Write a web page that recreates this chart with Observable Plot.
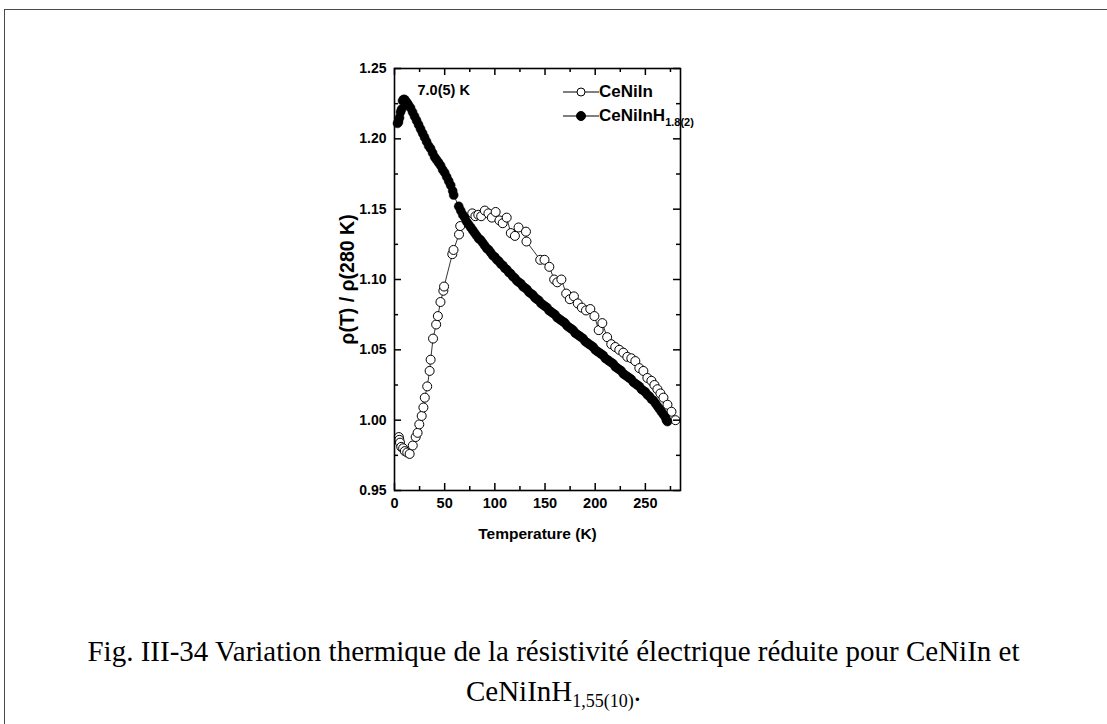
<!DOCTYPE html>
<html><head><meta charset="utf-8">
<script src="https://cdn.jsdelivr.net/npm/d3@7"></script>
<script src="https://cdn.jsdelivr.net/npm/@observablehq/plot@0.6"></script>
<style>
html,body{margin:0;padding:0;background:#fff;}
#page{position:relative;width:1107px;height:724px;overflow:hidden;background:#fff;}
#border{position:absolute;left:4px;top:9px;width:1200px;height:800px;border-top:1.5px solid #4a4a4a;border-left:1.5px solid #4a4a4a;}
#chart{position:absolute;left:0;top:0;}
#legend{position:absolute;left:563px;top:80px;font:bold 17px Arial,"Liberation Sans",sans-serif;color:#000;}
.row{display:flex;align-items:center;height:24px;}
.row svg{display:block;}
.row sub{font-size:11px;vertical-align:-5px;line-height:0;}
#caption{position:absolute;left:0;width:1107px;top:631px;text-align:center;font:29px "Liberation Serif","Times New Roman",serif;line-height:40px;color:#000;}
#caption sub{font-size:18px;vertical-align:-6px;line-height:0;}
</style></head>
<body>
<div id="page">
  <div id="border"></div>
  <div id="chart"></div>
  <div id="legend"></div>
  <div id="caption"></div>
</div>
<script>
// ---- data ----
const seriesNames = ["CeNiIn", "CeNiInH"];
const seriesSubs = ["", "1.8(2)"];

const ceniinT = [4.3,4.8,5.5,6.7,8.6,10.3,12.7,15.1,18.2,21.1,23.0,24.7,27.1,28.8,30.2,32.6,35.0,36.0,38.4,41.5,43.2,45.8,48.7,49.4,57.6,58.8,64.3,65.5,77.5,80.6,83.5,86.4,90.0,93.6,97.0,100.8,104.6,107.8,111.8,115.9,120.0,123.6,131.0,131.5,145.2,149.5,154.3,159.1,162.2,166.3,171.1,174.7,178.8,182.6,186.7,190.8,195.1,199.2,203.5,207.1,211.9,216,220,224,228,232,236,240,244,248,252,256,259,262,265,268,272,276,280];
const ceniinRho = [0.988,0.986,0.984,0.981,0.980,0.978,0.977,0.976,0.982,0.988,0.991,0.997,1.003,1.009,1.016,1.024,1.035,1.043,1.058,1.068,1.074,1.084,1.092,1.095,1.118,1.121,1.132,1.138,1.147,1.145,1.146,1.145,1.149,1.147,1.144,1.148,1.142,1.140,1.144,1.133,1.131,1.137,1.134,1.127,1.114,1.114,1.109,1.100,1.098,1.100,1.090,1.086,1.088,1.083,1.080,1.078,1.079,1.074,1.064,1.069,1.059,1.054,1.052,1.050,1.048,1.045,1.044,1.042,1.037,1.035,1.030,1.028,1.025,1.022,1.019,1.016,1.011,1.006,1.000];

const hydT = [3,4,5,6,7,8,9,10,11,12,13,14,16,18,20,22,24,26,28,30,32,34,36,38,40,42,44,46,48,50,52,54,56,58,59,64,66,68,70,72,74,76,78,80,82,84,86,88,90,92,94,96,98,100,102,104,106,108,110,112,114,116,118,120,122,124,126,128,130,132,134,136,138,140,142,144,146,148,150,152,154,156,158,160,162,164,166,168,170,172,174,176,178,180,182,184,186,188,190,192,194,196,198,200,202,204,206,208,210,212,214,216,218,220,222,224,226,228,230,232,234,236,238,240,242,244,246,248,250,252,254,256,258,260,262,264,266,268,270,271,272];
const hydRho = [1.211,1.212,1.215,1.219,1.221,1.227,1.228,1.228,1.227,1.226,1.225,1.224,1.222,1.219,1.216,1.213,1.210,1.207,1.204,1.201,1.198,1.195,1.193,1.190,1.187,1.185,1.183,1.181,1.178,1.176,1.173,1.170,1.167,1.163,1.160,1.152,1.149,1.146,1.144,1.141,1.139,1.137,1.135,1.133,1.131,1.129,1.128,1.126,1.124,1.122,1.121,1.119,1.117,1.116,1.114,1.113,1.111,1.110,1.108,1.107,1.105,1.104,1.102,1.101,1.099,1.098,1.097,1.095,1.094,1.093,1.091,1.090,1.089,1.087,1.086,1.085,1.083,1.082,1.081,1.080,1.078,1.077,1.076,1.075,1.073,1.072,1.071,1.070,1.069,1.067,1.066,1.065,1.064,1.062,1.061,1.060,1.059,1.058,1.056,1.055,1.054,1.053,1.052,1.050,1.049,1.048,1.047,1.046,1.044,1.043,1.042,1.041,1.040,1.038,1.037,1.036,1.035,1.033,1.032,1.031,1.030,1.029,1.027,1.026,1.025,1.024,1.022,1.021,1.020,1.018,1.017,1.015,1.014,1.012,1.010,1.008,1.006,1.004,1.002,1.000,0.999];

const xMajor = [0,50,100,150,200,250];
const xMinor = [25,75,125,175,225,275];
const yMajor = [0.95,1.00,1.05,1.10,1.15,1.20,1.25];
const yMinor = [0.975,1.025,1.075,1.125,1.175,1.225];

const xTitle = "Temperature (K)";
const yTitle = "ρ(T) / ρ(280 K)";
const annotation = "7.0(5) K";
const captionLine1 = "Fig. III-34 Variation thermique de la résistivité électrique réduite pour CeNiIn et";
const captionLine2Main = "CeNiInH";
const captionLine2Sub = "1,55(10)";

// ---- build ----
const ceniin = ceniinT.map((t, i) => ({T: t, v: ceniinRho[i]}));
const hyd = hydT.map((t, i) => ({T: t, v: hydRho[i]}));
const peak = [hyd.reduce((a, b) => (b.v > a.v ? b : a))];

const W = 1107, H = 560;
const mL = 394, mR = 427, mT = 68, mB = 70;
const innerW = W - mL - mR, innerH = H - mT - mB;
const font = "Arial, 'Liberation Sans', sans-serif";

const chart = Plot.plot({
  width: W, height: H,
  marginLeft: mL, marginRight: mR, marginTop: mT, marginBottom: mB,
  x: {domain: [0, 285]},
  y: {domain: [0.95, 1.25]},
  style: {fontFamily: font, color: "black", background: "transparent", overflow: "visible"},
  marks: [
    Plot.line(ceniin, {x: "T", y: "v", stroke: "black", strokeWidth: 0.8}),
    Plot.dot(ceniin, {x: "T", y: "v", r: 4.5, fill: "white", stroke: "black", strokeWidth: 1}),
    Plot.line(hyd, {x: "T", y: "v", stroke: "black", strokeWidth: 0.8}),
    Plot.dot(hyd, {x: "T", y: "v", r: 4.5, fill: "black", stroke: "black", strokeWidth: 0.5}),
    Plot.frame({stroke: "black", strokeWidth: 1.6}),
    // inward ticks
    Plot.tickX(xMajor, {x: d => d, insetTop: innerH - 7, stroke: "black", strokeWidth: 1.5}),
    Plot.tickX(xMajor, {x: d => d, insetBottom: innerH - 7, stroke: "black", strokeWidth: 1.5}),
    Plot.tickX(xMinor, {x: d => d, insetTop: innerH - 4, stroke: "black", strokeWidth: 1.5}),
    Plot.tickX(xMinor, {x: d => d, insetBottom: innerH - 4, stroke: "black", strokeWidth: 1.5}),
    Plot.tickY(yMajor, {y: d => d, insetRight: innerW - 7, stroke: "black", strokeWidth: 1.5}),
    Plot.tickY(yMajor, {y: d => d, insetLeft: innerW - 7, stroke: "black", strokeWidth: 1.5}),
    Plot.tickY(yMinor, {y: d => d, insetRight: innerW - 4, stroke: "black", strokeWidth: 1.5}),
    Plot.tickY(yMinor, {y: d => d, insetLeft: innerW - 4, stroke: "black", strokeWidth: 1.5}),
    // tick labels
    Plot.axisX(xMajor, {tickSize: 0, tickPadding: 7, fontSize: 14.5, fontWeight: "bold", label: null}),
    Plot.axisY(yMajor, {tickSize: 0, tickPadding: 8, fontSize: 14, fontWeight: "bold", label: null, tickFormat: d3.format(".2f")}),
    // titles
    Plot.axisX([], {tickSize: 0, label: xTitle, labelAnchor: "center", labelArrow: "none", labelOffset: 48, fontSize: 15.5, fontWeight: "bold"}),
    Plot.axisY([], {tickSize: 0, label: yTitle, labelAnchor: "center", labelArrow: "none", labelOffset: 54, fontSize: 19.5, fontWeight: "bold"}),
    // annotation at the peak
    Plot.text(peak, {x: "T", y: "v", text: () => annotation, textAnchor: "start", dx: 14, dy: -9, fontSize: 14.5, fontWeight: "bold", fill: "black"})
  ]
});
document.getElementById("chart").appendChild(chart);

// legend
const legend = document.getElementById("legend");
seriesNames.forEach((name, i) => {
  const row = document.createElement("div");
  row.className = "row";
  const filled = i === 1;
  row.innerHTML = `<svg width="36" height="20"><line x1="0" y1="10" x2="36" y2="10" stroke="black" stroke-width="1"/>` +
    `<circle cx="18" cy="10" r="${filled ? 4.5 : 4}" fill="${filled ? "black" : "white"}" stroke="black" stroke-width="1"/></svg>` +
    `<span>${name}${seriesSubs[i] ? `<sub>${seriesSubs[i]}</sub>` : ""}</span>`;
  legend.appendChild(row);
});

// caption
document.getElementById("caption").innerHTML =
  `<div>${captionLine1}</div><div>${captionLine2Main}<sub>${captionLine2Sub}</sub>.</div>`;
</script>
</body></html>
